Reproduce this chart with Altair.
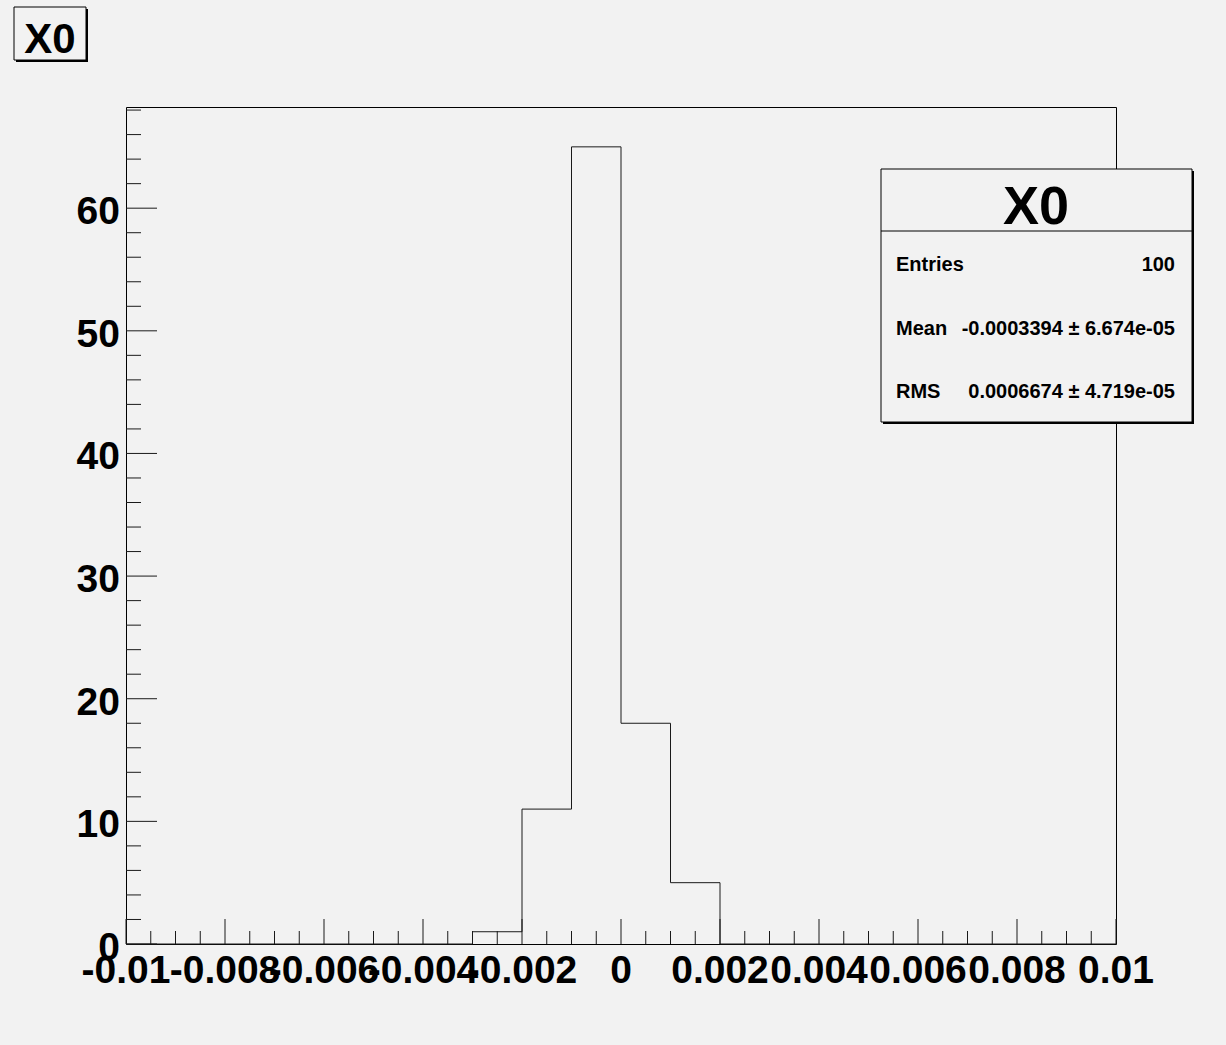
import altair as alt
import pandas as pd

# ---- data ----
bin_lefts = [-0.010, -0.009, -0.008, -0.007, -0.006, -0.005, -0.004, -0.003, -0.002, -0.001,
             0.000, 0.001, 0.002, 0.003, 0.004, 0.005, 0.006, 0.007, 0.008, 0.009]
counts = [0, 0, 0, 0, 0, 0, 0, 1, 11, 65, 18, 5, 0, 0, 0, 0, 0, 0, 0, 0]
x_max_edge = 0.010

x_major = [-0.010, -0.008, -0.006, -0.004, -0.002, 0.0, 0.002, 0.004, 0.006, 0.008, 0.010]
x_labels = ["-0.01", "-0.008", "-0.006", "-0.004", "-0.002", "0", "0.002", "0.004", "0.006", "0.008", "0.01"]
y_major = [0, 10, 20, 30, 40, 50, 60]
y_labels = ["0", "10", "20", "30", "40", "50", "60"]

title_text = "X0"
stat_names = ["Entries", "Mean", "RMS"]
stat_values = ["100", "-0.0003394 \u00b1 6.674e-05", "0.0006674 \u00b1 4.719e-05"]

# ---- derived tables ----
W, H = 990, 837
FONT = "Liberation Sans"
xs = alt.Scale(domain=[-0.01, 0.01], nice=False, zero=False)
ys = alt.Scale(domain=[0, 68.25], nice=False, zero=False)

step_df = pd.DataFrame({"x": bin_lefts + [x_max_edge], "y": counts + [0]})

x_minor = [round(-0.01 + 0.0005 * i, 5) for i in range(41)]
x_minor = [v for v in x_minor if all(abs(v - m) > 1e-9 for m in x_major)]
y_minor = [v for v in range(0, 69, 2) if v % 10 != 0]

xlab_df = pd.DataFrame({"v": x_major, "t": x_labels})
ylab_df = pd.DataFrame({"v": y_major, "t": y_labels})
xmaj_df = pd.DataFrame({"v": x_major})
xmin_df = pd.DataFrame({"v": x_minor})
ymaj_df = pd.DataFrame({"v": y_major})
ymin_df = pd.DataFrame({"v": y_minor})
one = pd.DataFrame({"k": [0]})

X = lambda f: alt.X(f, type="quantitative", scale=xs, axis=None)
Y = lambda f: alt.Y(f, type="quantitative", scale=ys, axis=None)

LINE = "#1a1a1a"

hist = alt.Chart(step_df).mark_line(interpolate="step-after", color=LINE, strokeWidth=1).encode(
    x=X("x"), y=Y("y"))

xmaj = alt.Chart(xmaj_df).mark_rule(color=LINE, strokeWidth=1).encode(
    x=X("v"), y=alt.value(H), y2=alt.value(H - 25))
xmin = alt.Chart(xmin_df).mark_rule(color=LINE, strokeWidth=1).encode(
    x=X("v"), y=alt.value(H), y2=alt.value(H - 13))
ymaj = alt.Chart(ymaj_df).mark_rule(color=LINE, strokeWidth=1).encode(
    y=Y("v"), x=alt.value(0), x2=alt.value(31))
ymin = alt.Chart(ymin_df).mark_rule(color=LINE, strokeWidth=1).encode(
    y=Y("v"), x=alt.value(0), x2=alt.value(15))

xlab = alt.Chart(xlab_df).mark_text(font=FONT, fontWeight="bold", fontSize=39, baseline="alphabetic",
                                    align="center", color="#000").encode(
    x=X("v"), y=alt.value(H + 39), text="t:N")
ylab = alt.Chart(ylab_df).mark_text(font=FONT, fontWeight="bold", fontSize=39, baseline="alphabetic",
                                    align="right", color="#000", dy=16).encode(
    y=Y("v"), x=alt.value(-6), text="t:N")

# title box (top-left)
tb_shadow = alt.Chart(one).mark_rect(fill="#000").encode(
    x=alt.value(-110), x2=alt.value(-38), y=alt.value(-98), y2=alt.value(-45))
tb_box = alt.Chart(one).mark_rect(fill="#f2f2f2", stroke="#000", strokeWidth=1).encode(
    x=alt.value(-112), x2=alt.value(-40), y=alt.value(-100), y2=alt.value(-47))
tb_text = alt.Chart(one).mark_text(text=title_text, font=FONT, fontWeight="bold", fontSize=42,
                                   align="center", baseline="alphabetic", color="#000").encode(
    x=alt.value(-76), y=alt.value(-54))

# stats box
sb_shadow = alt.Chart(one).mark_rect(fill="#000").encode(
    x=alt.value(757), x2=alt.value(1068), y=alt.value(64), y2=alt.value(317))
sb_box = alt.Chart(one).mark_rect(fill="#f2f2f2", stroke="#000", strokeWidth=1).encode(
    x=alt.value(755), x2=alt.value(1066), y=alt.value(62), y2=alt.value(315))
sb_div = alt.Chart(one).mark_rule(color="#000", strokeWidth=1).encode(
    x=alt.value(755), x2=alt.value(1066), y=alt.value(124))
sb_title = alt.Chart(one).mark_text(text=title_text, font=FONT, fontWeight="bold", fontSize=54,
                                    align="center", baseline="alphabetic", color="#000").encode(
    x=alt.value(910), y=alt.value(117))

row_y = [164, 228, 291]
stat_layers = []
for name, val, yy in zip(stat_names, stat_values, row_y):
    stat_layers.append(alt.Chart(one).mark_text(text=name, font=FONT, fontWeight="bold", fontSize=20,
                                                align="left", baseline="alphabetic", color="#000").encode(
        x=alt.value(770), y=alt.value(yy)))
    stat_layers.append(alt.Chart(one).mark_text(text=val, font=FONT, fontWeight="bold", fontSize=20,
                                                align="right", baseline="alphabetic", color="#000").encode(
        x=alt.value(1049), y=alt.value(yy)))

chart = alt.layer(
    hist, xmin, xmaj, ymin, ymaj, xlab, ylab,
    tb_shadow, tb_box, tb_text,
    sb_shadow, sb_box, sb_div, sb_title, *stat_layers
).properties(
    width=W, height=H,
    autosize=alt.AutoSizeParams(type="none"),
    padding={"left": 126, "top": 107, "right": 110, "bottom": 101},
    background="#f2f2f2",
).configure_view(stroke="#000", strokeWidth=1, fill=None)

chart.save("out.html", embed_options={"renderer": "svg", "actions": False})
